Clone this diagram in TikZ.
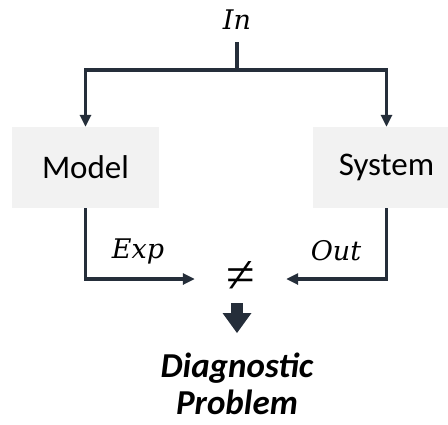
\documentclass[tikz,border=0pt]{standalone}
\usepackage{fontspec}
\setmainfont{Carlito}
\newfontfamily\labelfont{DejaVu Serif}
\newfontfamily\signfont{Liberation Serif}
\usepackage{tikz}
\usetikzlibrary{positioning, arrows.meta}

\definecolor{linecolor}{HTML}{252E3A}
\definecolor{boxgray}{HTML}{F2F2F2}

\begin{document}
\begin{tikzpicture}[
    x=1pt, y=-1pt, % y runs downwards
    block/.style={fill=boxgray, minimum width=147pt, minimum height=81pt,
        font=\fontsize{33}{40}\selectfont},
    wire/.style={draw=linecolor, line width=3.4pt},
    flow/.style={wire, -{Triangle[length=12pt, width=11pt]}},
    thickarrow/.style={draw=linecolor, line width=12pt,
        -{Triangle[length=20pt, width=29pt, line width=0pt]}},
    varlabel/.style={inner sep=0pt, font=\labelfont\itshape\fontsize{27}{32}\selectfont}
]
    \useasboundingbox (0,0) rectangle (448,424);

    % Define the nodes using (x, y) coordinates
    \node[varlabel] (in) at (237,20) {In};
    \coordinate (split) at (237,70);
    \node[block] (model) at (85.5,167.5) {Model};
    \node[block] (system) at (386.5,167.5) {System};
    % Wide empty box round the sign, so the arrows stop short of it
    \node[inner sep=0pt, minimum width=91pt, minimum height=40pt,
        font=\signfont\fontsize{52}{56}\selectfont] (neq) at (240.5,279) {\raisebox{3pt}{≠}};
    \node[varlabel] (exp) at (138,251) {Exp};
    \node[varlabel] (out) at (336,251) {Out};
    \node[align=center, inner sep=0pt, anchor=north,
        font=\fontsize{35}{37}\selectfont\bfseries\itshape] (diag) at (237,353)
        {Diagnostic\\Problem};

    % 1. Input splits to both blocks
    \draw[wire, shorten <=12pt] (in.south) -- (split);
    \draw[flow] (split) -| (model.north);
    \draw[flow] (split) -| (system.north);

    % 2. Outputs meet at the comparison
    \draw[flow] (model.south) |- (neq.west);
    \draw[flow] (system.south) |- (neq.east);

    % 3. Block arrow down to the result
    \draw[thickarrow, shorten <=4pt, shorten >=20pt] (diag.north |- neq.south) -- (diag.north);

\end{tikzpicture}
\end{document}
